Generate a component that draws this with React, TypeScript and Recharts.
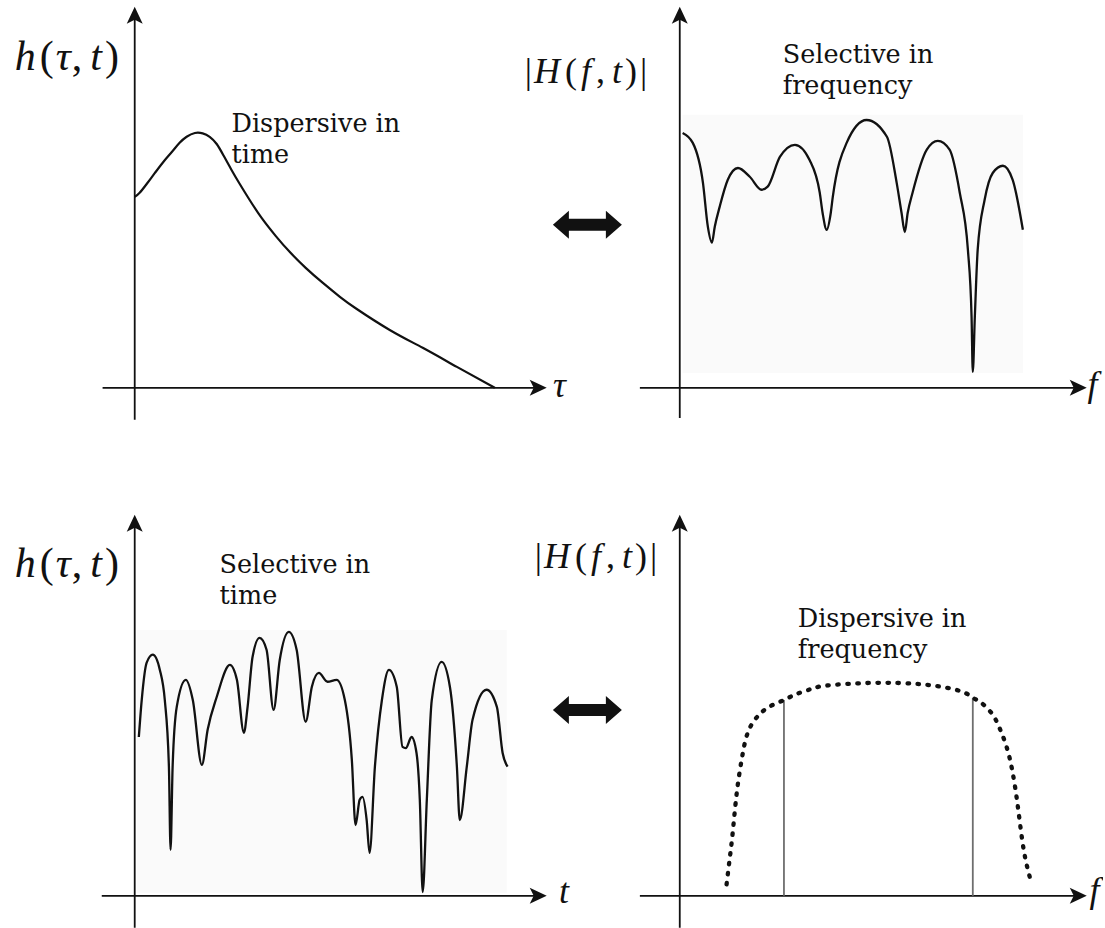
import { LineChart, Line, XAxis, YAxis, ReferenceLine, ReferenceDot, ReferenceArea } from 'recharts';

// delay-domain impulse response: one broad hump, dispersive in time
const tauTL = [0, 0.12, 0.29, 0.49, 0.68, 0.9, 1.09, 1.26, 1.46, 1.65, 1.82, 1.99, 2.16, 2.35, 2.55, 2.79, 3.08, 3.42, 3.76, 4.15, 4.56, 4.98, 5.39, 6.19, 6.99, 7.82, 8.74];
const hTL = [5.01, 5.12, 5.35, 5.64, 5.91, 6.19, 6.43, 6.59, 6.69, 6.68, 6.59, 6.4, 6.09, 5.72, 5.35, 4.93, 4.46, 3.99, 3.57, 3.15, 2.76, 2.39, 2.07, 1.52, 1.05, 0.55, 0];

// frequency response with deep fades, selective in frequency
const fTR = [0.07, 0.32, 0.57, 0.69, 0.79, 0.86, 0.98, 1.18, 1.43, 1.72, 2.01, 2.16, 2.46, 2.83, 3.19, 3.44, 3.51, 3.61, 3.71, 3.76, 4.1, 4.59, 5.09, 5.33, 5.45, 5.53, 5.6, 5.72, 6.07, 6.34, 6.63, 6.88, 7.08, 7.17, 7.2, 7.25, 7.32, 7.49, 7.69, 7.94, 8.18, 8.43];
const hfTR = [6.69, 6.43, 5.38, 4.23, 3.81, 4.23, 4.75, 5.46, 5.77, 5.54, 5.2, 5.28, 6.06, 6.38, 5.98, 5.12, 4.59, 4.15, 4.59, 5.01, 6.43, 7.03, 6.59, 5.38, 4.59, 4.09, 4.59, 5.12, 6.25, 6.48, 6.25, 5.12, 3.62, 1.86, 0.42, 1.86, 3.62, 4.93, 5.64, 5.83, 5.46, 4.15];

// time-varying response with fast fades, selective in time
const tBL = [0.1, 0.17, 0.29, 0.44, 0.61, 0.73, 0.83, 0.87, 0.92, 1.02, 1.24, 1.41, 1.63, 1.77, 1.99, 2.31, 2.48, 2.65, 2.74, 2.86, 3.03, 3.2, 3.37, 3.52, 3.74, 3.93, 4.15, 4.3, 4.47, 4.68, 4.9, 5.1, 5.27, 5.36, 5.46, 5.53, 5.63, 5.7, 5.83, 6.0, 6.17, 6.36, 6.5, 6.58, 6.72, 6.84, 6.92, 6.99, 7.09, 7.21, 7.45, 7.65, 7.82, 7.89, 8.06, 8.2, 8.54, 8.79, 8.93, 9.05];
const htBL = [4.17, 5.14, 6.12, 6.33, 5.93, 5.14, 3.39, 1.21, 3.39, 4.96, 5.67, 5.14, 3.44, 4.36, 5.22, 6.06, 5.67, 4.28, 4.96, 6.27, 6.77, 6.46, 4.88, 6.19, 6.93, 6.46, 4.57, 5.49, 5.85, 5.62, 5.67, 5.14, 3.57, 1.86, 2.52, 2.6, 1.99, 1.13, 3.39, 5.14, 5.93, 5.49, 3.91, 3.88, 4.17, 3.75, 2.52, 0.1, 2.52, 5.14, 6.14, 5.49, 3.39, 1.99, 3.39, 4.62, 5.41, 4.96, 3.75, 3.39];

// band-limited flat response, dispersive in frequency
const fBR = [1.15, 1.23, 1.3, 1.4, 1.52, 1.67, 1.92, 2.21, 2.56, 2.87, 3.2, 3.61, 4.74, 5.97, 6.88, 7.2, 7.37, 7.62, 7.81, 8.03, 8.18, 8.3, 8.43, 8.55, 8.65];
const hfBR = [0.3, 1.0, 1.65, 2.7, 3.57, 4.28, 4.72, 4.97, 5.14, 5.3, 5.42, 5.52, 5.59, 5.55, 5.38, 5.2, 5.1, 4.85, 4.52, 3.91, 3.23, 2.4, 1.35, 0.7, 0.3];
const bandEdges = [2.56, 7.2];

const notesTL = ['Dispersive in', 'time'];
const notesTR = ['Selective in', 'frequency'];
const notesBL = ['Selective in', 'time'];
const notesBR = ['Dispersive in', 'frequency'];

const INK = '#111';
const SERIF = 'DejaVu Serif';
const MATH = 'Liberation Serif';
const SHADE = '#fafafa';

type Part = { t: string; i?: boolean; dx?: number };
const hLabel: Part[] = [{ t: 'h', i: true }, { t: '(', dx: 4 }, { t: 'τ', i: true, dx: 2 }, { t: ',', dx: 1 }, { t: 't', i: true, dx: 8 }, { t: ')', dx: 3 }];
const HLabel: Part[] = [{ t: '|' }, { t: 'H', i: true, dx: 2 }, { t: '(', dx: 5 }, { t: 'f', i: true, dx: 4 }, { t: ',', dx: 5 }, { t: 't', i: true, dx: 7 }, { t: ')', dx: 3 }, { t: '|', dx: 3 }];

const toRows = (xs: number[], ys: number[]) => xs.map((x, i) => ({ x, y: ys[i] }));

type Frame = { ox: number; oy: number; sx: number; sy: number; x0: number; x1: number; y0: number; y1: number };

const frameTL: Frame = { ox: 135, oy: 388, sx: 41.2, sy: 38.1, x0: -3.1, x1: 10.7, y0: -0.86, y1: 10.18 };
const frameTR: Frame = { ox: 680, oy: 388, sx: 40.7, sy: 38.1, x0: -3.95, x1: 10.4, y0: -0.86, y1: 10.18 };
const frameBL: Frame = { ox: 135, oy: 896, sx: 41.2, sy: 38.1, x0: -3.1, x1: 10.7, y0: -0.84, y1: 10.18 };
const frameBR: Frame = { ox: 680, oy: 896, sx: 40.7, sy: 38.1, x0: -3.95, x1: 10.4, y0: -0.84, y1: 10.18 };

const HeadRight = ({ cx, cy }: any) => (
  <polygon points={`${cx},${cy} ${cx - 17},${cy - 8} ${cx - 13},${cy} ${cx - 17},${cy + 8}`} fill={INK} />
);
const HeadUp = ({ cx, cy }: any) => (
  <polygon points={`${cx},${cy} ${cx - 8},${cy + 17} ${cx},${cy + 13} ${cx + 8},${cy + 17}`} fill={INK} />
);

const DoubleArrow = ({ cx, cy }: any) => {
  const w = 34.5, b = 18.5, hh = 14, s = 6;
  const pts = [
    [cx - w, cy], [cx - b, cy - hh], [cx - b, cy - s], [cx + b, cy - s], [cx + b, cy - hh],
    [cx + w, cy], [cx + b, cy + hh], [cx + b, cy + s], [cx - b, cy + s], [cx - b, cy + hh],
  ];
  return <polygon points={pts.map((p) => p.join(',')).join(' ')} fill={INK} />;
};

const Note = ({ cx, cy, lines }: any) => (
  <text x={cx} y={cy} fontFamily={SERIF} fontSize={25.5} fill={INK}>
    {lines.map((l: string, i: number) => (
      <tspan key={i} x={cx} dy={i === 0 ? 0 : 31}>{l}</tspan>
    ))}
  </text>
);

const MathText = ({ cx, cy, parts, size }: any) => (
  <text x={cx} y={cy} fontFamily={MATH} fontSize={size} fill={INK}>
    {parts.map((p: Part, i: number) => (
      <tspan key={i} fontStyle={p.i ? 'italic' : 'normal'} dx={p.dx ?? 0}>{p.t}</tspan>
    ))}
  </text>
);

const AxisVar = ({ cx, cy, t }: any) => (
  <text x={cx} y={cy} fontFamily={MATH} fontSize={36} fontStyle="italic" fill={INK}>{t}</text>
);

// crossing axes with arrow tips
const axes = (xStart: number, yStart: number) => [
  <ReferenceLine key="ax" segment={[{ x: xStart, y: 0 }, { x: 9.7, y: 0 }]} stroke={INK} strokeWidth={1.8} ifOverflow="visible" />,
  <ReferenceLine key="ay" segment={[{ x: 0, y: yStart }, { x: 0, y: 9.7 }]} stroke={INK} strokeWidth={1.8} ifOverflow="visible" />,
  <ReferenceDot key="hx" x={10} y={0} ifOverflow="visible" shape={(p: any) => <HeadRight cx={p.cx} cy={p.cy} />} />,
  <ReferenceDot key="hy" x={0} y={10} ifOverflow="visible" shape={(p: any) => <HeadUp cx={p.cx} cy={p.cy} />} />,
];

const Panel = ({ frame, data, children }: any) => {
  const left = frame.ox + frame.x0 * frame.sx;
  const top = frame.oy - frame.y1 * frame.sy;
  const width = (frame.x1 - frame.x0) * frame.sx;
  const height = (frame.y1 - frame.y0) * frame.sy;
  return (
    <div style={{ position: 'absolute', left, top, width, height }}>
      <LineChart width={width} height={height} data={data} margin={{ top: 0, right: 0, bottom: 0, left: 0 }}>
        <XAxis type="number" dataKey="x" domain={[frame.x0, frame.x1]} allowDataOverflow hide />
        <YAxis type="number" domain={[frame.y0, frame.y1]} allowDataOverflow hide />
        {children}
      </LineChart>
    </div>
  );
};

const App = () => {
  const rowsBR = toRows(fBR, hfBR);
  const edgeHeight = (x: number) => rowsBR.find((r) => r.x === x)?.y ?? 0;

  return (
    <div style={{ position: 'absolute', left: 0, top: 0, width: 1105, height: 928, background: '#fff', overflow: 'hidden' }}>
      <Panel frame={frameTL} data={toRows(tauTL, hTL)}>
        {axes(-0.78, -0.84)}
        <Line type="natural" dataKey="y" stroke={INK} strokeWidth={2.2} dot={false} isAnimationActive={false} />
        <ReferenceDot x={2.35} y={6.72} ifOverflow="visible" shape={(p: any) => <Note cx={p.cx} cy={p.cy} lines={notesTL} />} />
        <ReferenceDot x={-2.91} y={8.35} ifOverflow="visible" shape={(p: any) => <MathText cx={p.cx} cy={p.cy} parts={hLabel} size={42} />} />
        <ReferenceDot x={10.15} y={-0.24} ifOverflow="visible" shape={(p: any) => <AxisVar cx={p.cx} cy={p.cy} t="τ" />} />
      </Panel>

      <Panel frame={frameTR} data={toRows(fTR, hfTR)}>
        <ReferenceArea x1={0.07} x2={8.43} y1={0.39} y2={7.17} fill={SHADE} fillOpacity={1} stroke="none" ifOverflow="visible" />
        {axes(-0.98, -0.79)}
        <Line type="monotone" dataKey="y" stroke={INK} strokeWidth={2.3} dot={false} isAnimationActive={false} />
        <ReferenceDot x={2.53} y={8.53} ifOverflow="visible" shape={(p: any) => <Note cx={p.cx} cy={p.cy} lines={notesTR} />} />
        <ReferenceDot x={-3.81} y={8.0} ifOverflow="visible" shape={(p: any) => <MathText cx={p.cx} cy={p.cy} parts={HLabel} size={36} />} />
        <ReferenceDot x={10.02} y={-0.21} ifOverflow="visible" shape={(p: any) => <AxisVar cx={p.cx} cy={p.cy} t="f" />} />
        <ReferenceDot x={-2.27} y={4.28} ifOverflow="visible" shape={(p: any) => <DoubleArrow cx={p.cx} cy={p.cy} />} />
      </Panel>

      <Panel frame={frameBL} data={toRows(tBL, htBL)}>
        <ReferenceArea x1={0.05} x2={9.03} y1={0.08} y2={6.98} fill={SHADE} fillOpacity={1} stroke="none" ifOverflow="visible" />
        {axes(-0.8, -0.84)}
        <Line type="monotone" dataKey="y" stroke={INK} strokeWidth={2.3} dot={false} isAnimationActive={false} />
        <ReferenceDot x={2.06} y={8.48} ifOverflow="visible" shape={(p: any) => <Note cx={p.cx} cy={p.cy} lines={notesBL} />} />
        <ReferenceDot x={-2.91} y={8.37} ifOverflow="visible" shape={(p: any) => <MathText cx={p.cx} cy={p.cy} parts={hLabel} size={42} />} />
        <ReferenceDot x={10.3} y={-0.18} ifOverflow="visible" shape={(p: any) => <AxisVar cx={p.cx} cy={p.cy} t="t" />} />
      </Panel>

      <Panel frame={frameBR} data={rowsBR}>
        {axes(-0.98, -0.84)}
        {bandEdges.map((x) => (
          <ReferenceLine key={x} segment={[{ x, y: 0 }, { x, y: edgeHeight(x) }]} stroke="#6e6e6e" strokeWidth={1.8} ifOverflow="visible" />
        ))}
        <Line type="natural" dataKey="y" stroke={INK} strokeWidth={4.3} strokeDasharray="1.5 8.5" strokeLinecap="round" dot={false} isAnimationActive={false} />
        <ReferenceDot x={2.9} y={7.06} ifOverflow="visible" shape={(p: any) => <Note cx={p.cx} cy={p.cy} lines={notesBR} />} />
        <ReferenceDot x={-3.56} y={8.61} ifOverflow="visible" shape={(p: any) => <MathText cx={p.cx} cy={p.cy} parts={HLabel} size={36} />} />
        <ReferenceDot x={10.07} y={-0.16} ifOverflow="visible" shape={(p: any) => <AxisVar cx={p.cx} cy={p.cy} t="f" />} />
        <ReferenceDot x={-2.27} y={4.88} ifOverflow="visible" shape={(p: any) => <DoubleArrow cx={p.cx} cy={p.cy} />} />
      </Panel>
    </div>
  );
};

export default App;
